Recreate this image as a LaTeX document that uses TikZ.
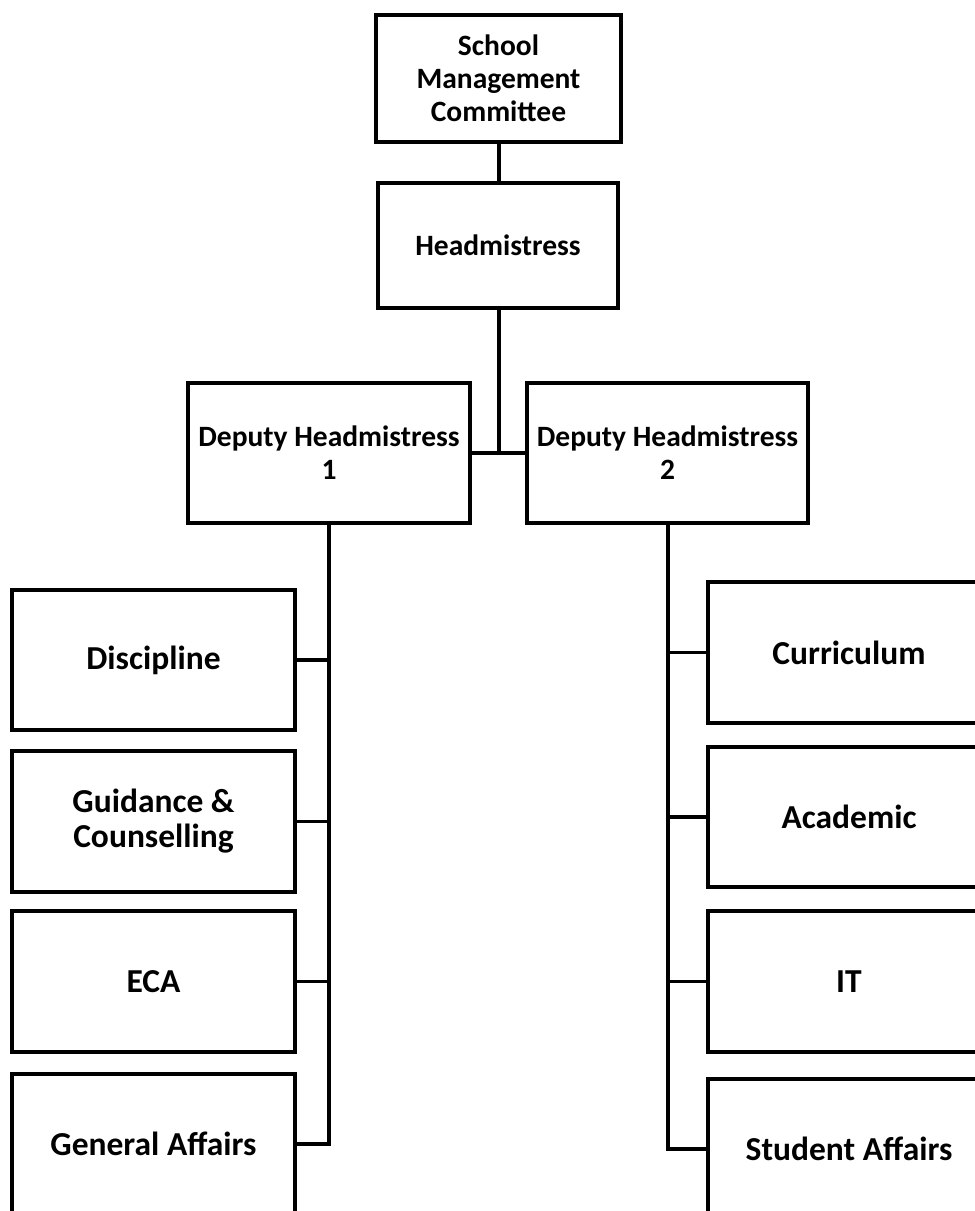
\documentclass[tikz,border=0pt]{standalone}
\usepackage{fontspec}
\setmainfont{Carlito}
\begin{document}
\begin{tikzpicture}[x=1pt,y=-1pt,
  box/.style={draw=black, line width=3.5pt, fill=white, align=center, inner sep=0pt,
    font=\bfseries\fontsize{29.5}{33}\selectfont},
  unit/.style={box, font=\bfseries\fontsize{33.5}{35}\selectfont},
  conn/.style={draw=black, line width=3.5pt}]
\useasboundingbox (0,0) rectangle (975,1211);
\clip (0,0) rectangle (975,1211);
\fill[white] (0,0) rectangle (975,1211);
% top
\node[box, minimum width=245, minimum height=127] (smc) at (498.5,78.5) {School\\Management\\Committee};
\node[box, minimum width=240, minimum height=125] (hm) at (498,245.5) {Headmistress};
\node[box, minimum width=282, minimum height=140] (d1) at (329,453) {Deputy Headmistress\\1};
\node[box, minimum width=281, minimum height=140] (d2) at (667.5,453) {Deputy Headmistress\\2};
% left column
\node[unit, minimum width=283, minimum height=140] (dis) at (153.5,660) {Discipline};
\node[unit, minimum width=283, minimum height=141] (gc) at (153.5,821.5) {Guidance \&\\Counselling};
\node[unit, minimum width=283, minimum height=141] (eca) at (153.5,981.5) {ECA};
\node[unit, minimum width=283, minimum height=140] (ga) at (153.5,1144) {General Affairs};
% right column
\node[unit, minimum width=282, minimum height=141] (cur) at (849,652.5) {Curriculum};
\node[unit, minimum width=282, minimum height=140] (aca) at (849,817) {Academic};
\node[unit, minimum width=282, minimum height=141] (it) at (849,981.5) {IT};
\node[unit, minimum width=282, minimum height=140] (sa) at (849,1149) {Student Affairs};
% connectors
\coordinate (jn) at (499,453);
\coordinate (lv) at (329,523);
\coordinate (rv) at (668,523);
\draw[conn] (smc.south -| jn) -- (hm.north -| jn);
\draw[conn] (hm.south -| jn) -- (jn);
\draw[conn] (d1.east) -- (d2.west);
\draw[conn] (lv) -- (lv |- ga.east) -- (ga.east);
\draw[conn] (dis.east) -- (dis.east -| lv);
\draw[conn] (gc.east) -- (gc.east -| lv);
\draw[conn] (eca.east) -- (eca.east -| lv);
\draw[conn] (rv) -- (rv |- sa.west) -- (sa.west);
\draw[conn] (cur.west) -- (cur.west -| rv);
\draw[conn] (aca.west) -- (aca.west -| rv);
\draw[conn] (it.west) -- (it.west -| rv);
\end{tikzpicture}
\end{document}
